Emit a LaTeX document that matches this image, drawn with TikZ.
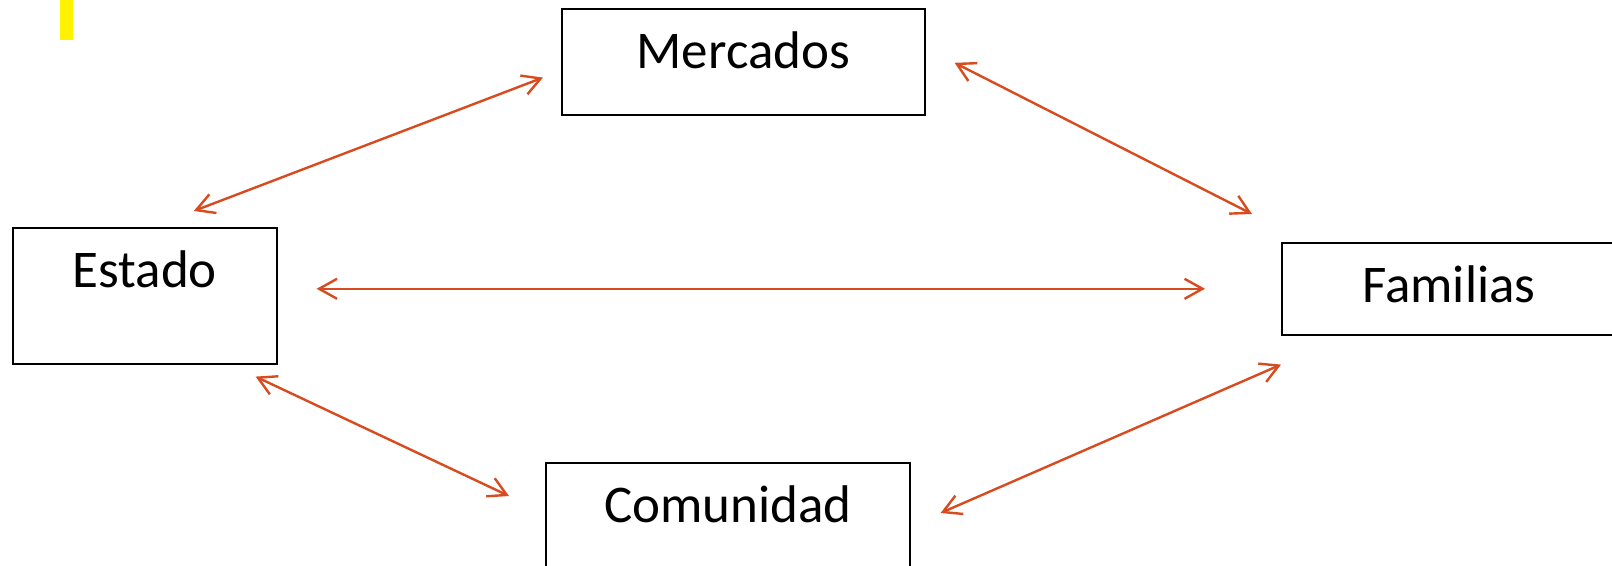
\documentclass[tikz,border=0pt]{standalone}
\usepackage{fontspec}
\setmainfont{Carlito}
\usepackage{tikz}
\usetikzlibrary{arrows.meta}
\definecolor{arrowred}{RGB}{216,75,30}
\tikzset{
	caja/.style={draw=black, line width=0.8pt, inner sep=0pt, anchor=north west, text height=30pt, font=\fontsize{26.5}{32}\selectfont},
	flecha/.style={draw=arrowred, line width=1.2pt, {Straight Barb[length=9pt,width=10pt]}-{Straight Barb[length=9pt,width=10pt]}}
}

\begin{document}
\begin{tikzpicture}[x=0.5pt,y=-0.5pt]
				\useasboundingbox (0,0) rectangle (1612,566);
				\clip (0,0) rectangle (1612,566);
				\fill[yellow] (60,0) rectangle (73,40);
				\node[caja, minimum width=132pt, text depth=38pt] (estado) at (12,227) {Estado};
				\node[caja, minimum width=181.5pt, text depth=23pt] (mercados) at (561,8) {Mercados};
				\node[caja, minimum width=167pt, text depth=16pt] (familias) at (1281,242) {Familias};
				\node[caja, minimum width=182pt, text depth=30pt] (comunidad) at (545,462) {Comunidad};
				\draw[flecha] ([shift={(49,-16)}]estado.north) -- ([shift={(-18,-38)}]mercados.south west);
				\draw[flecha] ([shift={(29,1)}]mercados.east) -- ([shift={(-29,-28)}]familias.north west);
				\draw[flecha] ([shift={(39,-7)}]estado.east) -- ([shift={(-76,0)}]familias.west);
				\draw[flecha] ([shift={(-22,12)}]estado.south east) -- ([shift={(-36,34)}]comunidad.north west);
				\draw[flecha] ([shift={(30,51)}]comunidad.north east) -- ([shift={(0,29)}]familias.south west);
			\end{tikzpicture}
\end{document}
